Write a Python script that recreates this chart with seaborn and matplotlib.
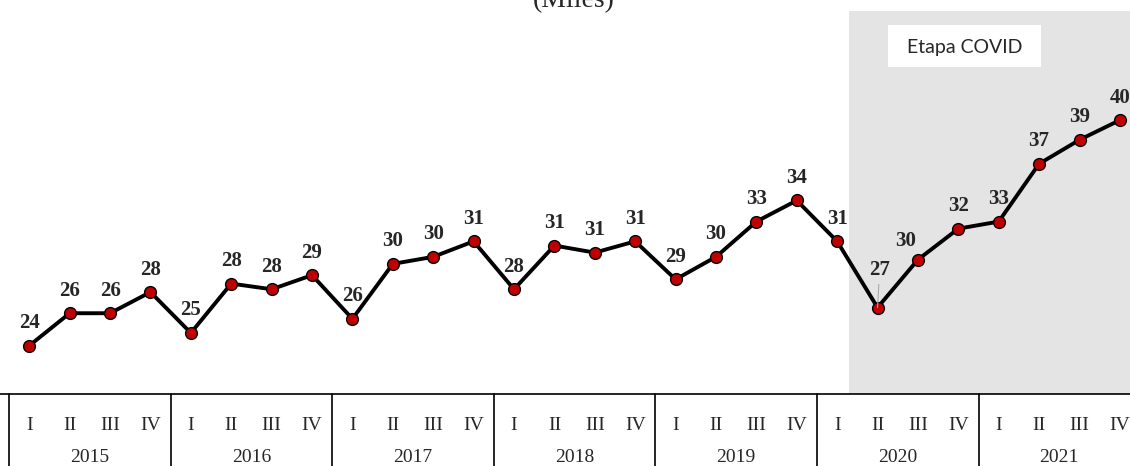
import numpy as np
import pandas as pd
import seaborn as sns
import matplotlib.pyplot as plt
import matplotlib.transforms as mtransforms
from matplotlib.patches import Rectangle

years = ["2015", "2016", "2017", "2018", "2019", "2020", "2021"]
quarters = ["I", "II", "III", "IV"]
values = [24.0, 26.3, 26.3, 27.8, 24.9, 28.4, 28.0, 29.0,
          25.9, 29.8, 30.3, 31.4, 28.0, 31.1, 30.6, 31.4,
          28.7, 30.3, 32.8, 34.3, 31.4, 26.7, 30.1, 32.3,
          32.8, 36.9, 38.6, 40.0]
covid_start = "2020-II"

df = pd.DataFrame({
    "year": np.repeat(years, len(quarters)),
    "quarter": quarters * len(years),
    "value": values,
})
df["label"] = df["year"] + "-" + df["quarter"]
df["pos"] = np.arange(len(df))

sns.set_style("white")
plt.rcParams["font.family"] = ["Liberation Serif", "DejaVu Serif"]

fig = plt.figure(figsize=(11.3, 4.66), dpi=100)
ax = fig.add_axes([0, 72 / 466, 1, 383 / 466])

# shaded COVID period
start = df.loc[df["label"] == covid_start, "pos"].iloc[0] - 0.71
ax.axvspan(start, len(df) + 1, color="#e4e4e4", lw=0, zorder=0)

sns.lineplot(data=df, x="pos", y="value", color="black", lw=2.8,
             marker="o", markersize=8.5, markerfacecolor="#c00000",
             markeredgecolor="black", markeredgewidth=1.0, ax=ax, zorder=3)

# point labels
for _, r in df.iterrows():
    dx, dy = 0, 9
    arrow = None
    if r["label"] == "2020-II":
        dx, dy = 1.5, 20
        arrow = dict(arrowstyle="-", color="#a8a8a8", lw=0.8, shrinkA=1, shrinkB=0)
    elif r["label"] == "2020-III":
        dx, dy = -9, 6
    ax.annotate(f"{r['value']:.0f}", (r["pos"], r["value"]), xytext=(dx, dy),
                textcoords="offset points", ha="center", va="bottom",
                fontsize=15, fontweight="bold", arrowprops=arrow, zorder=4)

ax.set_xlim(-0.725, 27.25)
ax.set_ylim(20.57, 47.74)
ax.set_xticks([])
ax.set_yticks([])
ax.set_xlabel("")
ax.set_ylabel("")
for s in ["left", "right", "top"]:
    ax.spines[s].set_visible(False)
ax.spines["bottom"].set_color("black")
ax.spines["bottom"].set_linewidth(1.2)

# category table under the axis
trans = mtransforms.blended_transform_factory(ax.transData, ax.transAxes)
for i, y in enumerate(years):
    left = i * 4 - 0.5
    ax.plot([left, left], [0, -72 / 383], transform=trans, color="black",
            lw=1.2, clip_on=False)
    for j, q in enumerate(quarters):
        ax.text(i * 4 + j, -31 / 383, q, transform=trans, ha="center",
                va="center", fontsize=14)
    ax.text(i * 4 + 1.5, -64 / 383, y, transform=trans, ha="center",
            va="center", fontsize=14)
ax.plot([len(years) * 4 - 0.5] * 2, [0, -72 / 383], transform=trans,
        color="black", lw=1.2, clip_on=False)

# label box
ax.add_patch(Rectangle((888 / 1130, 327 / 383), 153 / 1130, 42 / 383,
                       transform=ax.transAxes, facecolor="white",
                       edgecolor="none", zorder=2))
ax.text(964.5 / 1130, 347 / 383, "Etapa COVID", transform=ax.transAxes,
        ha="center", va="center", fontsize=14, family=["Lato", "DejaVu Sans"],
        zorder=3)

fig.text(574 / 1130, 1 - 7 / 466, "(Miles)", ha="center", va="baseline",
         fontsize=20)

fig.savefig("out.png", dpi=100)
